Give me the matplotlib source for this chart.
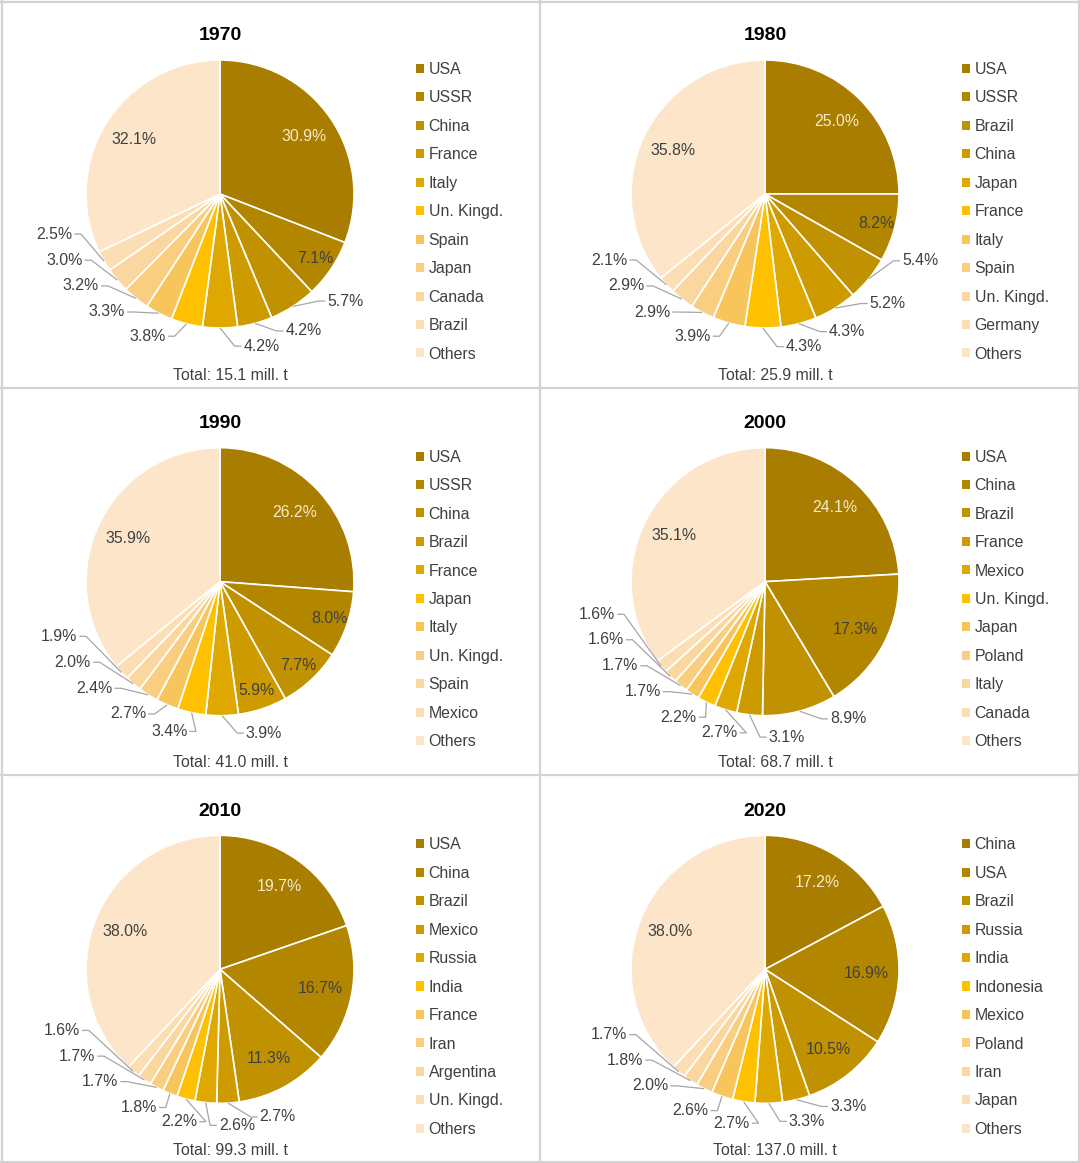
import matplotlib
matplotlib.use("Agg")
import matplotlib.pyplot as plt
import numpy as np
from matplotlib.patches import Patch
from matplotlib.lines import Line2D

plt.rcParams['font.family'] = ['Liberation Sans', 'DejaVu Sans']

# ---------------- data ----------------
years = ['1970', '1980', '1990', '2000', '2010', '2020']

countries_1970 = ['USA', 'USSR', 'China', 'France', 'Italy', 'Un. Kingd.', 'Spain', 'Japan', 'Canada', 'Brazil', 'Others']
shares_1970 = [30.9, 7.1, 5.7, 4.2, 4.2, 3.8, 3.3, 3.2, 3.0, 2.5, 32.1]

countries_1980 = ['USA', 'USSR', 'Brazil', 'China', 'Japan', 'France', 'Italy', 'Spain', 'Un. Kingd.', 'Germany', 'Others']
shares_1980 = [25.0, 8.2, 5.4, 5.2, 4.3, 4.3, 3.9, 2.9, 2.9, 2.1, 35.8]

countries_1990 = ['USA', 'USSR', 'China', 'Brazil', 'France', 'Japan', 'Italy', 'Un. Kingd.', 'Spain', 'Mexico', 'Others']
shares_1990 = [26.2, 8.0, 7.7, 5.9, 3.9, 3.4, 2.7, 2.4, 2.0, 1.9, 35.9]

countries_2000 = ['USA', 'China', 'Brazil', 'France', 'Mexico', 'Un. Kingd.', 'Japan', 'Poland', 'Italy', 'Canada', 'Others']
shares_2000 = [24.1, 17.3, 8.9, 3.1, 2.7, 2.2, 1.7, 1.7, 1.6, 1.6, 35.1]

countries_2010 = ['USA', 'China', 'Brazil', 'Mexico', 'Russia', 'India', 'France', 'Iran', 'Argentina', 'Un. Kingd.', 'Others']
shares_2010 = [19.7, 16.7, 11.3, 2.7, 2.6, 2.2, 1.8, 1.7, 1.7, 1.6, 38.0]

countries_2020 = ['China', 'USA', 'Brazil', 'Russia', 'India', 'Indonesia', 'Mexico', 'Poland', 'Iran', 'Japan', 'Others']
shares_2020 = [17.2, 16.9, 10.5, 3.3, 3.3, 2.7, 2.6, 2.0, 1.8, 1.7, 38.0]

totals = [15.1, 25.9, 41.0, 68.7, 99.3, 137.0]

all_countries = [countries_1970, countries_1980, countries_1990, countries_2000, countries_2010, countries_2020]
all_shares = [shares_1970, shares_1980, shares_1990, shares_2000, shares_2010, shares_2020]

# number of leading slices whose label sits inside the pie (style)
n_inside = [2, 2, 4, 2, 3, 3]

palette = ['#A87D00', '#B38600', '#C09100', '#CD9B00', '#DEA800', '#FFC000',
           '#F8C55C', '#F9CE80', '#FAD79E', '#FBDEB4', '#FCE5C9']

# ---------------- layout ----------------
W, H = 1080, 1163
DPI = 100
fig = plt.figure(figsize=(W / DPI, H / DPI), dpi=DPI)
fig.patch.set_facecolor('white')

R = 134.0                 # pie radius in px
PW, PH = 540.0, H / 3.0   # panel size in px
pie_cx = [220.0, 225.0]   # relative to panel left
pie_cy = 194.0
leg_x = [416.0, 422.0]
leg_top = 62.0

TXT = '#404040'
LEAD = '#A6A6A6'
FS = 11.4

RX, RY = 1.28, 1.17
HW = 0.135                # half label width (data units)
BOXW, BOXH = 0.30, 0.19


def spread(angs):
    a = np.array(angs, dtype=float)
    for _ in range(4000):
        moved = False
        for i in range(len(a) - 1):
            x1, y1 = RX * np.cos(np.radians(a[i])), RY * np.sin(np.radians(a[i]))
            x2, y2 = RX * np.cos(np.radians(a[i + 1])), RY * np.sin(np.radians(a[i + 1]))
            if abs(x1 - x2) < BOXW and abs(y1 - y2) < BOXH:
                a[i] += 0.25
                a[i + 1] -= 0.25
                moved = True
        if not moved:
            break
    return a


for k, year in enumerate(years):
    row, col = divmod(k, 2)
    x0, y0 = col * PW, row * PH
    ax = fig.add_axes([x0 / W, 1 - (y0 + PH) / H, PW / W, PH / H])
    cx, cy = pie_cx[col], pie_cy
    vals = all_shares[k]
    names = all_countries[k]

    wedges, _ = ax.pie(vals, colors=palette, startangle=90, counterclock=False,
                       radius=1.0, center=(0, 0),
                       wedgeprops=dict(edgecolor='white', linewidth=1.2))
    ax.set_xlim(-cx / R, (PW - cx) / R)
    ax.set_ylim(-(PH - cy) / R, cy / R)
    ax.set_aspect('auto')
    ax.axis('off')

    cum = np.concatenate([[0], np.cumsum(vals)])
    tot = cum[-1]
    th1 = 90 - 360 * cum[:-1] / tot
    th2 = 90 - 360 * cum[1:] / tot
    mids = (th1 + th2) / 2

    # inside labels
    inside = list(range(n_inside[k])) + [len(vals) - 1]
    for i in inside:
        rr = 0.76 if vals[i] >= 10 else 0.86
        a = np.radians(mids[i])
        col_t = '#F7EBC8' if i == 0 else TXT
        ax.text(rr * np.cos(a), rr * np.sin(a), f'{vals[i]:.1f}%', ha='center', va='center',
                fontsize=FS, color=col_t)

    # outside labels
    out_idx = list(range(n_inside[k], len(vals) - 1))
    init = []
    for i in out_idx:
        m = mids[i]
        init.append(m + 14 if m > -98 else m - 14)
    angs = spread(init)
    for i, la in zip(out_idx, angs):
        lr = np.radians(la)
        lx, ly = RX * np.cos(lr), RY * np.sin(lr)
        em = np.radians(mids[i])
        ex, ey = np.cos(em), np.sin(em)
        if ex > lx:
            sx = lx + HW + 0.015
            px = sx + 0.05
        else:
            sx = lx - HW - 0.015
            px = sx - 0.05
        ax.plot([ex, px, sx], [ey, ly, ly], color=LEAD, lw=0.9, solid_capstyle='butt', zorder=1)
        ax.text(lx, ly, f'{vals[i]:.1f}%', ha='center', va='center', fontsize=FS, color=TXT)

    # title and total
    ax.text(0, (cy - 36) / R, year, ha='center', va='center', fontsize=14,
            fontweight='bold', color='black')
    ax.text(10 / R, (cy - 375) / R, f'Total: {totals[k]:.1f} mill. t', ha='center', va='center',
            fontsize=FS, color=TXT)

    handles = [Patch(facecolor=c, edgecolor='none') for c in palette]
    ax.legend(handles, names, loc='upper left',
              bbox_to_anchor=(leg_x[col] / PW, 1 - leg_top / PH),
              frameon=False, borderpad=0, borderaxespad=0, fontsize=FS,
              handlelength=0.5, handleheight=0.5, handletextpad=0.3,
              labelspacing=0.85, labelcolor=TXT)

# panel borders
BC = '#D3D3D3'
for xp in [1.5, 540, 1078.5]:
    fig.add_artist(Line2D([xp / W, xp / W], [0, 1], color=BC, lw=1.6, transform=fig.transFigure))
for yp in [1.5, PH, 2 * PH, H - 1.5]:
    fig.add_artist(Line2D([0, 1], [1 - yp / H, 1 - yp / H], color=BC, lw=1.6, transform=fig.transFigure))

fig.savefig('out.png', dpi=DPI, facecolor='white')
